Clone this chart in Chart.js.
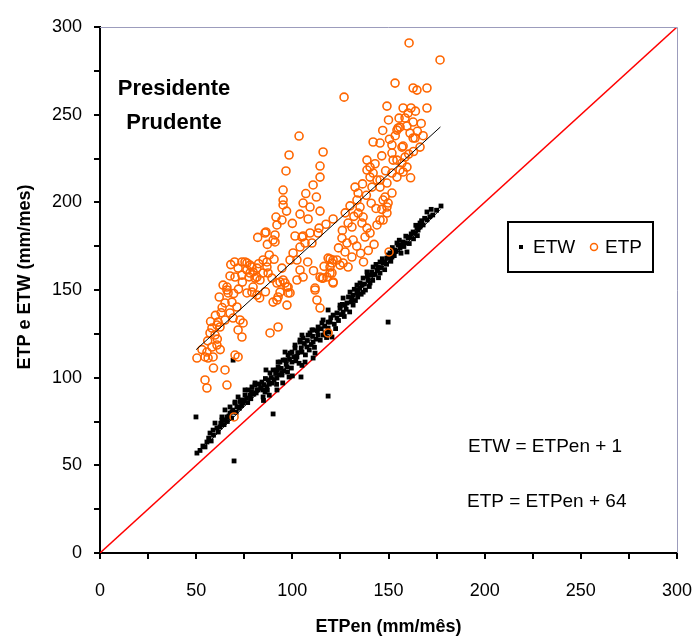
<!DOCTYPE html>
<html>
<head>
<meta charset="utf-8">
<title>ETP e ETW x ETPen - Presidente Prudente</title>
<script src="https://cdn.jsdelivr.net/npm/chart.js@4.4.1/dist/chart.umd.min.js"></script>
<style>
  html, body { margin: 0; padding: 0; background: #fff; }
  #chart { display: block; }
</style>
</head>
<body>
<canvas id="chart" width="694" height="642"></canvas>
<script>
// values (mm/mes)
const xTicks = [0, 50, 100, 150, 200, 250, 300];
const yTicks = [0, 50, 100, 150, 200, 250, 300];

const etw = [
  [49.9, 77.6], [69.7, 52.5], [86.3, 104.4], [90.0, 79.3], [118.6, 89.5], [149.8, 131.7],
  [104.5, 100.4], [69.2, 110.0], [118.6, 138.6], [110.8, 111.2], [98.3, 100.4], [94.6, 101.5],
  [50.4, 57.0], [54.6, 60.5], [55.6, 63.3], [57.2, 68.4], [58.8, 70.1], [60.8, 71.3],
  [62.4, 71.9], [59.8, 74.1], [63.4, 75.8], [64.0, 75.8], [66.0, 77.6], [65.0, 81.6],
  [67.6, 79.8], [67.6, 83.3], [70.2, 85.5], [71.2, 83.3], [71.8, 89.0], [73.8, 87.3],
  [75.4, 90.1], [77.0, 93.0], [79.0, 94.7], [80.6, 95.8], [82.2, 93.0], [84.8, 89.0],
  [84.8, 93.0], [85.8, 91.8], [84.2, 97.5], [87.4, 98.7], [88.4, 102.7], [90.0, 104.4],
  [92.0, 104.4], [92.6, 106.1], [93.6, 108.9], [95.2, 110.0], [96.2, 110.1], [97.8, 112.9],
  [98.8, 114.0], [99.8, 114.6], [101.4, 116.9], [104.0, 120.3], [104.0, 121.5], [105.6, 122.6],
  [108.2, 124.3], [109.2, 125.5], [110.8, 127.2], [113.4, 128.9], [115.4, 131.2], [116.0, 132.9],
  [118.6, 131.7], [116.0, 124.3], [118.6, 128.3], [119.6, 131.7], [121.2, 135.7], [123.2, 134.0],
  [123.2, 136.9], [124.8, 139.7], [126.4, 137.4], [126.4, 145.4], [128.4, 142.6], [130.0, 148.8],
  [131.6, 141.4], [131.6, 147.1], [133.6, 148.3], [133.6, 152.8], [135.2, 154.0], [136.8, 148.8],
  [136.8, 156.8], [138.8, 160.3], [140.4, 154.0], [140.4, 158.5], [142.0, 163.1], [144.0, 161.4],
  [145.6, 159.7], [145.6, 166.0], [148.2, 166.0], [149.2, 168.2], [150.8, 171.1], [152.4, 171.7],
  [154.4, 176.8], [155.0, 175.7], [156.0, 173.9], [157.6, 177.4], [159.6, 171.7], [160.2, 179.6],
  [162.8, 183.1], [164.8, 185.3], [166.4, 185.9], [166.4, 188.2], [170.0, 190.0], [170.0, 194.5],
  [173.0, 192.8], [177.3, 197.9],
  [85.0, 87.0], [88.0, 90.0], [92.0, 93.0], [95.0, 97.0], [100.0, 101.0], [105.0, 107.0],
  [63.4, 77.6], [70.2, 86.1], [75.4, 93.0], [80.6, 97.0], [92.6, 108.9], [96.2, 114.6],
  [101.4, 118.6], [105.0, 124.3], [110.2, 127.2], [124.8, 141.4], [127.4, 141.4], [131.0, 145.4],
  [134.2, 150.0], [136.2, 152.8], [139.4, 155.7], [142.0, 158.5], [144.6, 163.1], [147.2, 165.4],
  [149.8, 168.2], [151.8, 168.8], [153.4, 172.8], [157.0, 175.7], [158.6, 176.8], [161.2, 180.2],
  [163.8, 182.5], [165.4, 184.2], [168.0, 187.1], [65.0, 75.8], [68.6, 80.4], [71.8, 83.3],
  [74.4, 85.5], [78.0, 90.1], [81.6, 93.0], [86.8, 94.7], [89.4, 96.9], [92.0, 99.8],
  [94.6, 102.7], [97.2, 106.1], [99.8, 108.9], [102.4, 111.8], [105.0, 114.6], [107.6, 117.5],
  [110.8, 120.3], [113.4, 124.3], [117.0, 125.5], [120.6, 123.2], [111.8, 114.0], [106.6, 108.9],
  [52.0, 58.5], [53.5, 61.0], [56.5, 65.5], [57.8, 63.9], [59.0, 67.2], [61.5, 69.0],
  [62.8, 74.0], [64.5, 73.2], [66.2, 75.0], [67.0, 78.1], [68.4, 76.9], [69.0, 81.5],
  [70.8, 80.2], [72.5, 82.6], [72.9, 86.4], [73.6, 84.1], [75.0, 86.9], [76.2, 88.4],
  [76.8, 85.8], [78.4, 88.0], [78.8, 92.1], [80.0, 90.6], [81.2, 91.3], [82.8, 96.4],
  [83.5, 94.2], [85.2, 96.0], [86.0, 99.5], [87.0, 92.8], [88.0, 96.3], [89.0, 100.1],
  [90.5, 98.9], [91.3, 102.4], [91.8, 96.2], [93.0, 101.7], [94.0, 105.3], [95.5, 104.0],
  [96.8, 108.0], [97.5, 103.2], [98.5, 110.5], [99.5, 105.5], [100.8, 112.0], [101.8, 109.6],
  [102.8, 114.3], [103.5, 108.2], [104.6, 117.0], [106.2, 119.5], [106.8, 113.0], [107.8, 121.2],
  [108.8, 115.8], [109.8, 118.9], [110.5, 123.6], [111.5, 117.3], [112.3, 122.0], [113.0, 126.7],
  [114.5, 121.4], [115.0, 127.9], [116.8, 129.4], [117.8, 122.9], [119.0, 126.0], [120.0, 134.2],
  [121.8, 130.5], [122.5, 128.0], [124.0, 132.6], [125.5, 136.0], [126.0, 141.8], [127.0, 134.9],
  [128.0, 139.0], [129.2, 146.0], [129.8, 137.5], [130.6, 143.2], [132.2, 150.4], [132.8, 144.0],
  [134.0, 146.0], [135.0, 151.2], [135.8, 147.6], [137.5, 153.4], [138.0, 150.0], [139.0, 157.8],
  [140.0, 152.0], [141.2, 160.2], [141.8, 155.5], [143.0, 158.9], [143.5, 164.6], [144.8, 157.0],
  [146.2, 162.8], [146.8, 167.8], [148.0, 161.6], [149.0, 164.7], [150.0, 170.0], [151.2, 166.4],
  [152.0, 174.2], [153.0, 169.6], [154.0, 172.0], [155.6, 178.4], [156.5, 171.0], [158.0, 174.8],
  [159.0, 180.7], [160.8, 176.5], [161.8, 182.0], [163.0, 179.2], [164.2, 186.9], [165.0, 181.0],
  [167.2, 189.5], [168.8, 190.9], [171.5, 191.8], [172.2, 196.0], [175.0, 195.5]
];

const etp = [
  [126.9, 260.0], [149.2, 254.9], [160.7, 290.9], [176.8, 281.2], [153.4, 268.0], [162.8, 265.2],
  [164.8, 264.0], [170.0, 265.2], [157.6, 253.8], [161.7, 253.8], [170.0, 253.8], [103.5, 237.8],
  [98.3, 227.0], [116.0, 228.7], [96.7, 217.9], [114.4, 220.7], [114.4, 214.4], [110.8, 209.9],
  [95.2, 207.0], [95.2, 201.3], [95.2, 198.5], [105.6, 199.6], [109.2, 197.3], [114.4, 195.0],
  [104.0, 193.3], [108.2, 190.5], [91.5, 191.6], [94.6, 189.9], [92.0, 187.1], [121.2, 190.5],
  [90.0, 178.5], [86.3, 183.1], [101.4, 180.8], [105.6, 180.8], [109.2, 182.5], [113.9, 185.3],
  [104.0, 174.5], [100.4, 171.1], [102.4, 167.1], [119.6, 167.7], [123.2, 167.1], [126.4, 165.4],
  [73.8, 166.0], [76.4, 165.4], [79.0, 163.1], [81.6, 162.5], [84.8, 167.1], [86.8, 163.1],
  [71.8, 162.5], [67.6, 158.0], [78.0, 159.7], [81.6, 157.4], [84.8, 159.7], [94.6, 162.5],
  [98.8, 167.1], [89.4, 156.8], [92.0, 154.0], [95.2, 155.7], [105.6, 157.4], [102.4, 155.7],
  [104.0, 161.4], [114.4, 157.4], [119.6, 159.7], [121.2, 154.0], [64.0, 152.8], [66.0, 150.0],
  [79.6, 151.7], [97.2, 151.7], [98.8, 148.3], [111.8, 151.1],
  [158.6, 248.1], [162.8, 245.8], [159.6, 243.5], [156.0, 242.9], [154.4, 241.2], [161.2, 239.5],
  [162.8, 236.7], [166.4, 231.5], [145.6, 233.8], [151.8, 232.7], [157.6, 232.1], [155.0, 242.4],
  [160.2, 250.9], [163.8, 236.7], [152.4, 224.1], [157.0, 222.4], [156.0, 218.4], [151.8, 216.7],
  [157.6, 217.3], [145.6, 212.7], [149.2, 211.0], [151.8, 205.3], [147.2, 201.3], [149.2, 197.3],
  [149.2, 193.9], [145.6, 189.9], [142.0, 234.4], [151.8, 228.1], [154.4, 224.1], [157.0, 231.5],
  [158.6, 225.8], [159.6, 220.1], [154.4, 214.4], [138.8, 224.1], [140.4, 220.1], [142.0, 216.7],
  [144.0, 212.7], [145.6, 208.7], [148.2, 203.0], [149.8, 199.6], [138.8, 218.4], [140.4, 214.4],
  [141.4, 208.7], [132.6, 208.7], [134.2, 205.3], [133.6, 201.3], [135.2, 197.3], [134.2, 193.9],
  [136.8, 191.6], [136.2, 188.2], [138.8, 185.3], [137.8, 180.2], [140.4, 182.5], [144.0, 187.1],
  [147.2, 189.9], [129.0, 188.2], [131.0, 185.9], [125.8, 179.6], [128.4, 176.8], [131.6, 178.5],
  [127.4, 171.7], [131.0, 168.8], [129.0, 163.1], [124.8, 164.2], [121.2, 167.1], [119.6, 163.1],
  [118.0, 157.4], [121.2, 154.6], [116.0, 156.8],
  [85.8, 182.5], [91.0, 181.4], [91.0, 177.4], [105.0, 180.2], [113.4, 182.5], [106.6, 176.8],
  [110.2, 176.8], [75.4, 166.0], [78.0, 164.2], [76.4, 161.4], [79.6, 160.3], [73.8, 158.5],
  [80.6, 156.8], [83.2, 155.7], [86.8, 166.0], [87.4, 159.7], [70.2, 157.4], [66.0, 151.7],
  [66.6, 148.3], [65.0, 142.6], [68.6, 143.1], [71.2, 140.3], [67.6, 136.9], [69.2, 134.0],
  [65.0, 132.9], [61.4, 131.7], [62.4, 128.9], [58.2, 128.3], [57.2, 125.5], [59.8, 124.3],
  [60.8, 118.6], [58.2, 117.5], [58.8, 111.8], [56.2, 111.2], [54.6, 111.8], [50.4, 111.2],
  [55.6, 114.6], [76.4, 148.3], [79.0, 148.8], [81.6, 147.1], [72.8, 132.9], [74.4, 131.2],
  [71.8, 127.2], [73.8, 123.2], [70.2, 112.9], [71.8, 111.8], [65.0, 104.4], [54.6, 98.7],
  [55.6, 94.1], [66.0, 95.8], [69.7, 77.6], [88.4, 125.5], [92.6, 128.9], [93.6, 154.6],
  [96.2, 154.0], [97.8, 151.7], [93.6, 148.8], [97.8, 148.3], [92.0, 144.3], [90.0, 143.1],
  [92.6, 146.0], [97.2, 141.4], [118.6, 168.2], [120.6, 165.4], [120.6, 159.7], [115.4, 156.8],
  [111.8, 150.0], [112.8, 144.3], [114.4, 139.7], [118.6, 125.5], [150.3, 171.7], [60.8, 130.0],
  [62.0, 146.0], [63.5, 140.0], [60.0, 135.5], [56.0, 121.0], [57.5, 132.0], [61.0, 122.0],
  [63.0, 137.0], [69.5, 148.0], [72.0, 150.5], [74.0, 154.5], [68.0, 164.5], [70.0, 166.0],
  [77.5, 157.5], [82.5, 165.0], [88.0, 170.0], [90.5, 167.5], [83.0, 145.5], [86.0, 149.0],
  [62.5, 116.0], [59.0, 105.5], [53.0, 116.0], [127.5, 194.0], [130.0, 198.0], [132.0, 192.0],
  [126.0, 184.0], [133.5, 175.0], [135.5, 171.0], [137.0, 166.0], [139.5, 172.5], [142.5, 176.0],
  [143.5, 196.5], [146.5, 196.0], [141.0, 199.5], [136.5, 210.5], [138.5, 204.0], [143.0, 222.0],
  [146.5, 226.5], [148.5, 218.0], [150.5, 236.0], [153.5, 238.0], [147.0, 241.0], [150.0, 247.0],
  [155.5, 248.0], [160.5, 227.5], [161.5, 214.0], [163.0, 229.0], [165.0, 240.5], [167.0, 245.0],
  [164.0, 252.0], [168.0, 238.0], [112.5, 203.0], [117.5, 187.5], [124.0, 174.0], [108.0, 166.0],
  [111.0, 161.0], [116.5, 163.5], [100.0, 188.0], [97.0, 195.0], [107.0, 205.0], [87.0, 176.0],
  [82.0, 180.0]
];

// 1:1 line and the two fitted lines, end points as drawn
const oneToOne = [[0, 0], [300, 300]];
const fitEtw = [[50, 56], [177, 196]];
const fitEtp = [[50, 116], [177, 243]];

const toXY = (arr) => arr.map(([x, y]) => ({ x, y }));

const FONT = "'Liberation Sans', Arial, sans-serif";

// frame (top/right), y title, text boxes and legend drawn over the plot
const extras = {
  id: 'extras',
  afterDraw(chart) {
    const { ctx, chartArea: a } = chart;
    ctx.save();

    ctx.strokeStyle = '#9c9cbc';
    ctx.lineWidth = 1;
    ctx.beginPath();
    ctx.moveTo(a.left, a.top + 0.5);
    ctx.lineTo(a.right + 0.5, a.top + 0.5);
    ctx.lineTo(a.right + 0.5, a.bottom);
    ctx.stroke();

    ctx.fillStyle = '#000';
    ctx.textBaseline = 'middle';
    ctx.textAlign = 'center';

    // y axis title sits a little above the middle of the axis in the original
    ctx.save();
    ctx.translate(25, 277);
    ctx.rotate(-Math.PI / 2);
    ctx.font = `bold 18px ${FONT}`;
    ctx.fillText('ETP e ETW (mm/mes)', 0, 0);
    ctx.restore();

    ctx.font = `bold 22px ${FONT}`;
    ctx.fillText('Presidente', 174, 89);
    ctx.fillText('Prudente', 174, 123);

    ctx.textAlign = 'left';
    ctx.font = `19px ${FONT}`;
    ctx.fillText('ETW = ETPen + 1', 468, 447);
    ctx.fillText('ETP = ETPen + 64', 467, 502);

    // legend
    ctx.lineWidth = 2;
    ctx.strokeStyle = '#000';
    ctx.strokeRect(508, 222, 145, 50);
    ctx.fillRect(519, 245, 4, 4);
    ctx.fillText('ETW', 533, 248);
    ctx.strokeStyle = '#ff6600';
    ctx.lineWidth = 1.5;
    ctx.beginPath();
    ctx.arc(594, 247, 3.5, 0, Math.PI * 2);
    ctx.stroke();
    ctx.fillText('ETP', 605, 248);

    ctx.restore();
  }
};

const tickFont = { family: FONT, size: 18 };
const titleFont = { family: FONT, size: 18, weight: 'bold' };
const everyQuarter = (s) => { s.ticks = []; for (let v = 0; v <= 300; v += 25) s.ticks.push({ value: v }); };

new Chart(document.getElementById('chart'), {
  type: 'scatter',
  data: {
    datasets: [
      {
        label: 'ETPen + 64', data: toXY(fitEtp), showLine: true,
        borderColor: '#000', borderWidth: 1, pointRadius: 0, order: 0
      },
      {
        label: 'ETPen + 1', data: toXY(fitEtw), showLine: true,
        borderColor: '#000', borderWidth: 1, pointRadius: 0, order: 0
      },
      {
        label: 'ETP', data: toXY(etp), pointStyle: 'circle', pointRadius: 4,
        borderColor: '#ff6600', backgroundColor: 'rgba(0,0,0,0)', borderWidth: 1.6, order: 1
      },
      {
        label: 'ETW', data: toXY(etw), pointStyle: 'rect', pointRadius: 3.4,
        backgroundColor: '#000', borderColor: '#000', borderWidth: 0, order: 2
      },
      {
        label: '1:1', data: toXY(oneToOne), showLine: true,
        borderColor: '#ff0000', borderWidth: 1.5, pointRadius: 0, order: 3
      }
    ]
  },
  options: {
    responsive: false,
    animation: false,
    layout: { padding: { top: 27, right: 17, left: 0, bottom: 0 } },
    plugins: { legend: { display: false }, tooltip: { enabled: false } },
    scales: {
      x: {
        type: 'linear', min: 0, max: 300,
        afterBuildTicks: everyQuarter,
        ticks: {
          autoSkip: false, maxRotation: 0, color: '#000', font: tickFont, padding: 21,
          callback: (v) => (xTicks.includes(v) ? String(v) : '')
        },
        grid: { drawOnChartArea: false, color: '#000', lineWidth: 2, tickLength: 6 },
        border: { color: '#000', width: 2 },
        title: { display: true, text: 'ETPen (mm/mês)', color: '#000', font: titleFont, padding: { top: 9 } },
        afterFit: (s) => { s.height = 89; s.paddingLeft = 0; s.paddingRight = 0; }
      },
      y: {
        type: 'linear', min: 0, max: 300,
        afterBuildTicks: everyQuarter,
        ticks: {
          autoSkip: false, color: '#000', font: tickFont, padding: 12,
          callback: (v) => (yTicks.includes(v) ? String(v) : '')
        },
        grid: { drawOnChartArea: false, color: '#000', lineWidth: 2, tickLength: 6 },
        border: { color: '#000', width: 2 },
        afterFit: (s) => { s.width = 100; s.paddingTop = 0; s.paddingBottom = 0; }
      }
    }
  },
  plugins: [extras]
});
</script>
</body>
</html>
